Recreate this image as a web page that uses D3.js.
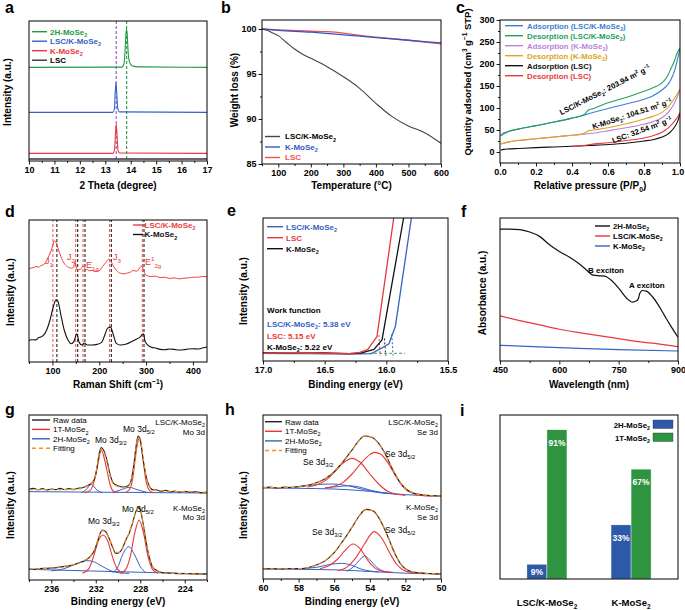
<!DOCTYPE html>
<html><head><meta charset="utf-8">
<script src="https://cdn.jsdelivr.net/npm/d3@7"></script>
<style>body{margin:0;background:#fff}svg{display:block}text{font-family:'Liberation Sans',Arial,Helvetica,sans-serif}</style>
</head><body><script>
// ---------------- DATA ----------------
// a: XRD (x = 2θ degree, y = intensity a.u.)
const aLSC=[[10,1.2],[17,1.2]];
const aK=[[10,4.6],[13.3,4.6],[13.36,6.5],[13.4,16],[13.43,22.2],[13.46,16],[13.5,6.5],[13.56,4.8],[17,4.6]];
const aLK=[[10,29.2],[13.3,29.2],[13.36,31.5],[13.39,41],[13.42,47],[13.45,41],[13.49,31.5],[13.55,29.5],[17,29.2]];
const a2H=[[10,56.2],[13.65,56.3],[13.72,57.5],[13.77,64],[13.81,76],[13.84,79],[13.87,74],[13.9,65],[13.95,59.5],[14.05,57.2],[14.3,56.5],[17,56.2]];
const aRefLines=[13.43,13.84];
const aTicks=[10,11,12,13,14,15,16,17];
// b: TGA
const bLK=[[50,100],[65,99.85],[80,99.6],[100,99.26],[125,98.5],[150,97.78],[175,97.2],[200,96.74],[250,95.81],[300,94.7],[350,93.41],[400,91.74],[450,90.26],[500,89.22],[550,88.48],[600,87.3]];
const bK=[[50,100],[100,99.85],[200,99.65],[300,99.35],[400,99.05],[500,98.75],[600,98.45]];
const bLSC=[[50,100],[100,99.9],[200,99.75],[250,99.7],[300,99.55],[350,99.3],[400,99.1],[500,98.75],[600,98.35]];
const bXTicks=[100,200,300,400,500,600], bYTicks=[85,90,95,100];
// c: N2 isotherms
const cAdsLK=[[0.005,37],[0.02,43],[0.05,47],[0.1,52],[0.2,60],[0.3,68],[0.4,77],[0.45,82],[0.5,88],[0.6,99],[0.7,109],[0.8,120],[0.85,128],[0.9,141],[0.93,152],[0.95,165],[0.97,185],[0.98,200],[0.99,218],[1.0,234]];
const cDesLK=[[0.005,37],[0.05,47],[0.1,52],[0.2,60],[0.3,68],[0.4,77],[0.45,82],[0.47,86],[0.49,95],[0.52,99],[0.6,112],[0.7,124],[0.8,138],[0.85,146],[0.9,157],[0.93,172],[0.95,190],[0.97,208],[0.98,220],[0.99,230],[1.0,236]];
const cAdsK=[[0.005,18],[0.02,20],[0.05,23],[0.1,26],[0.2,30],[0.3,34],[0.4,38],[0.45,40],[0.5,42],[0.6,48],[0.7,55],[0.8,63],[0.85,69],[0.9,78],[0.93,88],[0.95,98],[0.97,112],[0.99,130],[1.0,140]];
const cDesK=[[0.005,18],[0.05,23],[0.1,26],[0.2,30],[0.3,34],[0.4,38],[0.45,40],[0.47,43],[0.49,48],[0.52,50],[0.6,55],[0.7,64],[0.8,75],[0.85,81],[0.9,90],[0.93,100],[0.95,111],[0.97,122],[0.99,136],[1.0,143]];
const cAdsLSC=[[0.005,4],[0.02,6],[0.05,7],[0.1,8],[0.2,10],[0.3,11.5],[0.4,13],[0.5,15],[0.6,17],[0.7,20],[0.8,25],[0.85,28],[0.9,34],[0.93,40],[0.95,47],[0.97,57],[0.99,73],[1.0,88]];
const cDesLSC=[[0.4,13],[0.45,14],[0.47,15],[0.5,17],[0.6,21],[0.7,26],[0.8,32],[0.85,37],[0.9,45],[0.93,53],[0.95,61],[0.97,70],[0.99,82],[1.0,90]];
const cXTicks=[0,0.2,0.4,0.6,0.8,1.0], cYTicks=[0,50,100,150,200,250,300];
// d: Raman
const dLK=[[50,56],[55,56.6],[60,56.8],[65,57.4],[70,57],[75,57.8],[80,58.4],[85,59.6],[90,62.4],[95,65.4],[100,69.4],[104,73],[108,71.8],[112,68.4],[118,63.4],[125,59.4],[132,57.4],[140,56.4],[145,56.8],[148,60.4],[150,58.2],[153,55.4],[160,55.8],[166,57.8],[170,55.8],[175,55.4],[180,54.8],[185,55.2],[190,54.4],[200,55],[207,57.4],[214,59.8],[220,61.8],[224,61],[230,57.8],[237,55],[245,53.4],[255,53],[260,53.6],[265,53.8],[272,55],[280,54.6],[286,56.4],[291,57.8],[295,54.6],[300,52.2],[310,51.4],[320,51.6],[330,50.8],[340,51],[350,50.2],[360,50.6],[370,50],[380,50.4],[390,50.6],[400,51],[410,51],[420,51.4],[430,51.4]];
const dK=[[50,13],[55,13.4],[60,13.4],[65,13.2],[70,14.6],[75,15],[80,15.8],[88,19.4],[95,25.4],[102,33.4],[108,37.4],[112,36.4],[118,28.4],[125,19.4],[133,13.4],[140,11],[146,12.4],[152,17],[157,11.8],[163,10.2],[168,11.4],[175,10.2],[185,10.2],[195,10.6],[205,11.8],[212,16.4],[218,20.4],[224,21],[230,16.4],[236,11.4],[245,10.2],[258,10.8],[270,12.4],[280,13.8],[287,15],[294,17],[298,12.4],[305,9.8],[312,8.8],[320,8.4],[330,7.6],[340,7.4],[350,7.8],[360,7.6],[370,7.2],[380,7.4],[390,7.8],[400,8],[410,7.8],[420,8.4],[430,9]];
const dRedLines=[101,149.6,165.3,222,292], dBlackLines=[109.5,153.9,169.5,225.8,295.5];
const dTicks=[100,200,300,400], dMinor=[50,150,250,350];
// e: UPS cutoff (binding energy eV)
const eLK=[[17,4.6],[16.8,4.5],[16.6,4.4],[16.4,4.3],[16.3,4.2],[16.12,4.4],[15.98,10.2],[15.927,20.6],[15.797,85.6]];
const eLSC=[[17,4.6],[16.8,4.7],[16.5,4.5],[16.3,4.4],[16.22,5],[16.15,7],[16.076,14.6],[15.94,85.6]];
const eK=[[17,4.8],[16.8,4.7],[16.5,4.8],[16.3,4.4],[16.2,4.8],[16.1,7],[16.035,12.6],[15.86,85.6]];
const eDashLSC=[[16.06,15.5],[16.05,3.2]], eDashK=[[16.016,13.5],[16.005,3.2]], eDashLK=[[15.956,16],[15.945,3.2]];
const eDashBase=[[16.14,4.6],[15.85,4.6]];
const eTicks=[17.0,16.5,16.0,15.5], eMinor=[16.75,16.25,15.75];
// f: UV-vis
const f2H=[[450,79],[475,79],[500,78.6],[525,77.2],[550,74.6],[575,69.6],[600,65.6],[625,62.2],[650,58.2],[670,54.2],[685,51.4],[700,51],[715,50.8],[730,48.6],[750,43.6],[770,37.6],[785,35.2],[795,36],[800,37.4],[803,40.2],[810,42.2],[820,41.8],[835,38.6],[850,33.6],[865,27.6],[880,21.6],[900,14.2]];
const fLK=[[450,27],[500,24.2],[550,21.6],[600,19],[650,17],[700,15.2],[750,13.4],[800,11.6],[850,10.2],[900,8.6]];
const fK=[[450,9.4],[550,8.4],[650,7.6],[750,6.8],[900,6]];
const fTicks=[450,600,750,900], fMinor=[525,675,825];
// g: XPS Mo 3d
const gRawLK=[[238,54.4],[237.6,55],[237.2,54.2],[236.8,54.8],[236.4,54],[236,54.6],[235.6,54.2],[235.2,55],[234.8,54.3],[234.4,54.8],[234,54.4],[233.6,55],[233.2,55.4],[232.9,56.2],[232.6,57.2],[232.3,58.6],[232.1,61],[231.9,67],[231.7,75.5],[231.5,79.4],[231.3,78],[231.0,72],[230.7,63],[230.4,58],[230.0,56.6],[229.6,55.8],[229.2,56.2],[228.9,58.2],[228.6,68],[228.4,79],[228.2,86.4],[228.0,84.4],[227.8,75],[227.5,63],[227.2,56.6],[226.9,54.2],[226.5,54],[226.1,53.2],[225.7,53.8],[225.3,52.9],[224.9,53.4],[224.5,52.8],[224,53.2],[223.5,52.6],[223,53],[222.5,52.4],[222,52.6]];
const gFitLK=[[238,54.2],[236,54.2],[234,54.2],[233.5,54.6],[233,55.6],[232.6,57],[232.3,58.6],[232.1,61],[231.9,67],[231.7,75],[231.5,78.6],[231.3,77],[231.0,71],[230.7,62],[230.4,57.6],[230.0,56.2],[229.6,55.8],[229.2,56],[228.9,58],[228.6,67],[228.4,78],[228.2,85.4],[228.0,84],[227.8,76],[227.5,63],[227.2,56.4],[226.8,54.2],[226,53.4],[224,53],[222,52.6]];
const g1TaLK=[[233,52.4],[232.5,53.8],[232.2,58],[232,63],[231.8,70],[231.5,78],[231.2,72],[231,66],[230.7,57],[230.4,53.2],[230,52.4]];
const g1TbLK=[[229.4,52.4],[229,54],[228.7,60],[228.5,70],[228.3,80],[228.1,85],[227.9,80],[227.7,70],[227.5,60],[227.2,54],[226.8,52.4]];
const g2HaLK=[[233.3,52.4],[232.9,54],[232.4,57.4],[231.9,54],[231.4,52.4]];
const g2HbLK=[[230.5,52.4],[229.8,54],[229,55.6],[228.2,54],[227.3,52.4]];
const gBaseLK=[[238,53],[222,52.2]];
const gRawK=[[238,6.6],[237.5,6.4],[237,6.9],[236.5,7],[236,7.2],[235.5,7.4],[235,8],[234.5,8.4],[234,9.2],[233.5,10.2],[233,11.6],[232.5,14],[232.1,18],[231.8,24],[231.6,28],[231.4,30],[231.1,29],[230.8,25],[230.5,20],[230.2,16],[229.9,16.4],[229.6,19],[229.3,24],[229.0,28],[228.7,34],[228.4,41],[228.2,43.6],[228.0,42.4],[227.8,36],[227.5,24],[227.2,14],[226.9,8],[226.5,5.6],[226,4.4],[225.5,4.2],[225,4],[224,3.8],[223,3.7],[222,3.6]];
const gFitK=[[238,6.6],[237,6.8],[236,7.2],[235,8],[234,9.2],[233.5,10.3],[233,11.8],[232.5,14.2],[232.1,18.5],[231.8,24],[231.6,27.8],[231.4,29.6],[231.1,28.6],[230.8,25],[230.5,20.2],[230.2,16.6],[229.9,16.6],[229.6,19],[229.3,23.6],[229.0,28.4],[228.7,34.2],[228.4,40.6],[228.2,43.2],[228.0,42],[227.8,36.4],[227.5,24.4],[227.2,14],[226.9,8],[226.5,5.6],[226,4.4],[225,4],[222,3.6]];
const g1TaK=[[233.2,4],[232.6,7],[232.2,14],[231.8,23],[231.35,27],[230.9,23],[230.5,14],[230.1,7],[229.5,4]];
const g1TbK=[[229.8,4],[229.3,6.4],[228.9,14],[228.5,28],[228.1,36],[227.7,28],[227.3,14],[226.9,6.4],[226.4,4]];
const g2HaK=[[236,5.5],[235,6.5],[234,9],[233.3,11],[232.8,11.6],[232.2,11],[231.5,8.5],[230.8,6],[230,4.4],[229,4]];
const g2HbK=[[230.5,4.4],[230,8],[229.6,15],[229.05,20],[228.5,15],[228,8],[227.5,4.4]];
const gBaseK=[[238,6.4],[222,3.6]];
const gTicks=[236,232,228,224], gMinor=[238,234,230,226,222];
// h: XPS Se 3d
const hRawLK=[[60,54.8],[59.6,55.1],[59.2,54.6],[58.8,55.1],[58.4,54.9],[58,55.4],[57.5,56.2],[57,57.8],[56.5,60.2],[56,64.4],[55.5,70.4],[55,77.4],[54.7,81.8],[54.3,85.8],[53.9,85],[53.5,81.4],[53.1,74.4],[52.7,65.4],[52.3,57.8],[51.9,53.4],[51.5,51.4],[51,50.4],[50.5,50],[50,49.8]];
const hFitLK=[[60,54.8],[59,54.8],[58,55.3],[57.5,56.1],[57,57.7],[56.5,60.2],[56,64.4],[55.5,70.5],[55,77.3],[54.7,81.7],[54.3,85.6],[53.9,85],[53.5,81.3],[53.1,74.4],[52.7,65.5],[52.3,57.9],[51.9,53.4],[51.5,51.4],[51,50.4],[50,49.8]];
const h1TaLK=[[57.5,55.2],[57,56.4],[56.5,59],[56,64],[55.5,69.6],[55,72.4],[54.5,69.6],[54,63],[53.5,57],[53,52.6],[52.5,50.8],[52,50.2]];
const h1TbLK=[[56.5,54.5],[56,55.6],[55.5,58],[55,63],[54.5,69.4],[54,74.6],[53.75,76],[53.4,75],[53,70],[52.5,61],[52,54],[51.5,51],[51,50],[50.5,49.8]];
const h2HaLK=[[58.5,55],[57.5,56],[56.8,56.8],[56.2,57],[55.6,56.6],[55,55.4],[54.4,53.8],[53.8,52.4],[53,51.2]];
const h2HbLK=[[56.5,54.8],[55.8,55.4],[55.2,56],[54.6,55.2],[54,53.4],[53.3,51.8],[52.5,50.8]];
const hBaseLK=[[60,54.6],[58,54.4],[56,54],[54,52.6],[52,50.6],[50,49.8]];
const hRawK=[[60,6],[59.5,6.2],[59,6],[58.5,6.3],[58,6.2],[57.5,6.8],[57,8.4],[56.5,11],[56,15.8],[55.5,23],[55,31],[54.6,37.8],[54.2,41.8],[53.8,40.8],[53.4,35],[53,25.8],[52.6,15.4],[52.2,8],[51.8,5],[51.3,3.8],[50.5,3.2],[50,3]];
const hFitK=[[60,6],[58,6.2],[57.5,6.8],[57,8.4],[56.5,11],[56,15.8],[55.5,23],[55,31],[54.6,37.8],[54.2,41.6],[53.8,40.8],[53.4,35],[53,25.8],[52.6,15.4],[52.2,8],[51.8,5],[51.3,3.8],[50,3]];
const h1TaK=[[56.8,6.2],[56.3,8],[55.8,12],[55.4,17],[54.95,21],[54.5,17.6],[54.1,11],[53.7,6.5],[53.2,4.4],[52.7,4]];
const h1TbK=[[55.8,5],[55.3,7],[54.8,12.5],[54.3,21],[53.75,28.4],[53.3,24],[52.9,16],[52.5,9],[52.1,5.2],[51.6,3.8],[51,3.4]];
const h2HaK=[[58,6.2],[57,7],[56.3,8.6],[55.6,9.4],[55,8.2],[54.5,6],[54,4.8],[53.5,4.2]];
const h2HbK=[[55.3,4.6],[54.9,7.5],[54.6,11],[54.3,13.8],[54,11.5],[53.6,7],[53.2,4.6],[52.8,4]];
const hBaseK=[[60,6],[56,5.5],[54,4.5],[52,3.5],[50,3]];
const hTicks=[60,58,56,54,52,50], hMinor=[59,57,55,53,51];
// i: phase fractions
const iCats=["LSC/K-MoSe_{2}","K-MoSe_{2}"];
const iSeries=["2H-MoSe_{2}","1T-MoSe_{2}"];
const i2H=[9,33], i1T=[91,67];

// ---------------- DRAWING ----------------
const W=685,H=610;
const svg=d3.select("body").append("svg").attr("width",W).attr("height",H);
svg.append("rect").attr("width",W).attr("height",H).attr("fill","#fff");
const defs=svg.append("defs");

function rich(t,str,fs){
  const parts=str.split(/(_\{[^}]*\}|\^\{[^}]*\})/).filter(s=>s.length);
  let cur=0;
  parts.forEach(p=>{
    let txt=p,off=0,size=fs;
    if(p.startsWith("_{")){txt=p.slice(2,-1);off=fs*0.28;size=fs*0.68;}
    else if(p.startsWith("^{")){txt=p.slice(2,-1);off=-fs*0.4;size=fs*0.68;}
    t.append("tspan").attr("dy",(off-cur).toFixed(2)).attr("font-size",size).text(txt);
    cur=off;
  });
  return t;
}
function label(g,str,x,y,o={}){
  const fs=o.size||9;
  const t=g.append("text").attr("x",x).attr("y",y).attr("font-size",fs)
    .attr("font-weight",o.weight||"bold").attr("fill",o.color||"#000")
    .attr("text-anchor",o.anchor||"start");
  if(o.rotate!=null)t.attr("transform",`rotate(${o.rotate},${x},${y})`);
  return rich(t,str,fs);
}
function styleAxis(sel){
  sel.selectAll(".domain").remove();
  sel.selectAll("line").attr("stroke","#000").attr("stroke-width",0.9);
  sel.selectAll("text").attr("font-size",9).attr("font-weight","bold").attr("fill","#000")
    .attr("font-family","'Liberation Sans',Arial,sans-serif");
}
function panel(c){
  const g=svg.append("g");
  const x=d3.scaleLinear().domain(c.xd).range([c.l,c.r]);
  const y=d3.scaleLinear().domain(c.yd).range([c.b,c.t]);
  const id="clip_"+c.id;
  defs.append("clipPath").attr("id",id).append("rect").attr("x",c.l).attr("y",c.t).attr("width",c.r-c.l).attr("height",c.b-c.t);
  const plot=g.append("g").attr("clip-path",`url(#${id})`);
  const ax=g.append("g");
  if(c.xminor)ax.append("g").attr("transform",`translate(0,${c.b})`).call(d3.axisBottom(x).tickValues(c.xminor).tickSize(2).tickFormat(""));
  let xa=null;
  if(c.xticks)xa=ax.append("g").attr("transform",`translate(0,${c.b})`).call(d3.axisBottom(x).tickValues(c.xticks).tickSize(3.5).tickPadding(2.5).tickFormat(c.xfmt||(d=>d)));
  if(c.yminor)ax.append("g").attr("transform",`translate(${c.l},0)`).call(d3.axisLeft(y).tickValues(c.yminor).tickSize(2).tickFormat(""));
  if(c.yticks)ax.append("g").attr("transform",`translate(${c.l},0)`).call(d3.axisLeft(y).tickValues(c.yticks).tickSize(3.5).tickPadding(2).tickFormat(c.yfmt||(d=>d)));
  styleAxis(ax);
  if(xa&&c.lastShift)xa.selectAll(".tick:last-of-type text").attr("dx",c.lastShift);
  g.append("rect").attr("x",c.l).attr("y",c.t).attr("width",c.r-c.l).attr("height",c.b-c.t)
    .attr("fill","none").attr("stroke","#000").attr("stroke-width",1);
  if(c.xtitle)label(g,c.xtitle,(c.l+c.r)/2,c.xty,{size:10,anchor:"middle"});
  if(c.ytitle)label(g,c.ytitle,c.ytx,c.yty,{size:c.ytsize||10,anchor:"middle",rotate:-90});
  label(g,c.letter,c.lx,c.ly,{size:16});
  return {g,plot,x,y};
}
function draw(p,data,color,o={}){
  p.plot.append("path").datum(data)
    .attr("d",d3.line().x(d=>p.x(d[0])).y(d=>p.y(d[1])).curve(o.curve||d3.curveMonotoneX))
    .attr("fill","none").attr("stroke",color).attr("stroke-width",o.w||1.1)
    .attr("stroke-dasharray",o.dash||null).attr("stroke-linejoin","round");
}
function vlines(p,vals,color,dash){
  p.plot.selectAll(null).data(vals).enter().append("line")
    .attr("x1",d=>p.x(d)).attr("x2",d=>p.x(d)).attr("y1",p.y.range()[0]).attr("y2",p.y.range()[1])
    .attr("stroke",color).attr("stroke-width",1.1).attr("stroke-dasharray",dash);
}
function legend(g,items,o){
  items.forEach((it,i)=>{
    const yy=o.y+i*o.dy;
    g.append("line").attr("x1",o.x1).attr("x2",o.x2).attr("y1",yy).attr("y2",yy)
      .attr("stroke",it.c).attr("stroke-width",o.w||1.4).attr("stroke-dasharray",it.dash||null);
    label(g,it.t,o.tx,yy+o.fs*0.36,{size:o.fs,color:it.tc||it.c,weight:o.weight||"bold"});
  });
}

// colors
const RED="#e8383d",BLUE="#3562c4",GREEN="#1f9a45",ORANGE="#f39220";

// ---- a ----
const pa=panel({id:"a",l:29,r:207,t:21,b:161,xd:[10,17],yd:[0,84],xticks:aTicks,xminor:d3.range(10.5,17,1),
  xtitle:"2 Theta (degree)",xty:189,ytitle:"Intensity (a.u.)",ytx:11,yty:92,letter:"a",lx:5,ly:13});
pa.plot.append("line").attr("x1",pa.x(aRefLines[0])).attr("x2",pa.x(aRefLines[0])).attr("y1",21).attr("y2",161).attr("stroke","#9b4fc9").attr("stroke-width",1.1).attr("stroke-dasharray","3,2");
pa.plot.append("line").attr("x1",pa.x(aRefLines[1])).attr("x2",pa.x(aRefLines[1])).attr("y1",21).attr("y2",161).attr("stroke",GREEN).attr("stroke-width",1.1).attr("stroke-dasharray","3,2");
draw(pa,aLSC,"#333",{w:1.3});
draw(pa,aK,RED);
draw(pa,aLK,BLUE);
draw(pa,a2H,GREEN);
legend(pa.g,[{t:"2H-MoSe_{2}",c:GREEN},{t:"LSC/K-MoSe_{2}",c:BLUE},{t:"K-MoSe_{2}",c:RED},{t:"LSC",c:"#333",tc:"#000"}],
  {x1:32,x2:47,tx:50,y:31.7,dy:9.5,fs:8});

// ---- b ----
const pb=panel({id:"b",l:262,r:441,t:20,b:164,xd:[50,600],yd:[85,101],xticks:bXTicks,xminor:[50,150,250,350,450,550],
  yticks:bYTicks,yminor:[87.5,92.5,97.5],xtitle:"Temperature (°C)",xty:189,ytitle:"Weight loss (%)",ytx:237.5,yty:90,letter:"b",lx:221,ly:13});
draw(pb,bLSC,"#f05050",{w:1.3});
draw(pb,bK,"#3358c4",{w:1.3});
draw(pb,bLK,"#444",{w:1.1});
legend(pb.g,[{t:"LSC/K-MoSe_{2}",c:"#444",tc:"#000"},{t:"K-MoSe_{2}",c:"#3358c4"},{t:"LSC",c:"#f05050"}],
  {x1:265,x2:280,tx:285,y:136.5,dy:10.5,fs:8});

// ---- c ----
const pc=panel({id:"c",l:500,r:680,t:20,b:163,xd:[0,1],yd:[-25,300],xticks:cXTicks,xminor:[0.1,0.3,0.5,0.7,0.9],xfmt:d3.format(".1f"),lastShift:-2.5,
  yticks:cYTicks,yminor:[25,75,125,175,225,275],xtitle:"Relative pressure (P/P_{0})",xty:189,
  ytitle:"Quantity adsorbed (cm^{3} g^{−1} STP)",ytx:471,yty:82,ytsize:9.5,letter:"c",lx:456,ly:13});
const cCol={ablk:"#3b7fd0",dlk:"#22a060",ak:"#b784d8",dk:"#dba520",alsc:"#111",dlsc:"#e53b3b"};
draw(pc,cAdsLSC,cCol.alsc);
draw(pc,cDesLSC,cCol.dlsc);
draw(pc,cAdsK,cCol.ak);
draw(pc,cDesK,cCol.dk);
draw(pc,cAdsLK,cCol.ablk);
draw(pc,cDesLK,cCol.dlk);
legend(pc.g,[{t:"Adsorption (LSC/K-MoSe_{2})",c:cCol.ablk},{t:"Desorption (LSC/K-MoSe_{2})",c:cCol.dlk},
  {t:"Adsorption (K-MoSe_{2})",c:cCol.ak},{t:"Desorption (K-MoSe_{2})",c:cCol.dk},
  {t:"Adsorption (LSC)",c:cCol.alsc},{t:"Desorption (LSC)",c:cCol.dlsc}],{x1:505,x2:523,tx:527,y:25.7,dy:10,fs:7.8});
[["LSC/K-MoSe_{2}: 203.94 m^{2} g^{−1}",605,90,-27],["K-MoSe_{2}: 104.51 m^{2} g^{−1}",632,114,-18],["LSC: 32.54 m^{2} g^{−1}",642,130,-20]]
  .forEach(([s,x,y,r])=>{
    const t=pc.g.append("text").attr("transform",`translate(${x},${y}) rotate(${r})`).attr("text-anchor","middle")
      .attr("font-size",7.6).attr("font-weight","bold").attr("y",2.6);
    rich(t,s,7.6);
  });

// ---- d ----
const pd=panel({id:"d",l:29,r:207,t:220,b:362,xd:[50,430],yd:[0,85.4],xticks:dTicks,xminor:dMinor,
  xtitle:"Raman Shift (cm^{−1})",xty:388,ytitle:"Intensity (a.u.)",ytx:14,yty:292,letter:"d",lx:5,ly:217});
vlines(pd,dRedLines,"#f06060","3,2");
vlines(pd,dBlackLines,"#222","3,2");
draw(pd,dLK,"#f04040",{w:1});
draw(pd,dK,"#111",{w:1.1});
legend(pd.g,[{t:"LSC/K-MoSe_{2}",c:"#f04040"},{t:"K-MoSe_{2}",c:"#111"}],{x1:133,x2:143,tx:144.5,y:225,dy:9.5,fs:8});
[["J_{1}",45,264],["J_{2}",67,260],["E_{1g}",86,268],["J_{3}",113,260],["E^{1}_{2g}",145,265]].forEach(([s,x,y])=>
  label(pd.g,s,x,y,{size:9,color:"#e8383d",weight:"normal"}));

// ---- e ----
const pe=panel({id:"e",l:263,r:448,t:218,b:361,xd:[17,15.5],yd:[0,85.6],xticks:eTicks,xminor:eMinor,xfmt:d3.format(".1f"),
  xtitle:"Binding energy (eV)",xty:388,ytitle:"Intensity (a.u.)",ytx:247,yty:291,letter:"e",lx:227,ly:216});
draw(pe,eDashBase,"#3aa050",{curve:d3.curveLinear,dash:"3,2",w:1});
draw(pe,eDashLSC,RED,{curve:d3.curveLinear,dash:"2,2",w:1});
draw(pe,eDashK,"#222",{curve:d3.curveLinear,dash:"2,2",w:1});
draw(pe,eDashLK,BLUE,{curve:d3.curveLinear,dash:"2,2",w:1});
draw(pe,eLK,BLUE,{curve:d3.curveLinear,w:1.3});
draw(pe,eK,"#111",{curve:d3.curveLinear,w:1.3});
draw(pe,eLSC,RED,{curve:d3.curveLinear,w:1.3});
legend(pe.g,[{t:"LSC/K-MoSe_{2}",c:BLUE},{t:"LSC",c:RED},{t:"K-MoSe_{2}",c:"#111"}],{x1:267,x2:283,tx:286,y:226.7,dy:11,fs:8});
label(pe.g,"Work function",267,313,{size:8});
label(pe.g,"LSC/K-MoSe_{2}: 5.38 eV",267,326.5,{size:8,color:BLUE});
label(pe.g,"LSC: 5.15 eV",267,339,{size:8,color:RED});
label(pe.g,"K-MoSe_{2}: 5.22 eV",267,349.5,{size:8});

// ---- f ----
const pf=panel({id:"f",l:500,r:678,t:218,b:361,xd:[450,900],yd:[0,85.6],xticks:fTicks,xminor:fMinor,
  xtitle:"Wavelength (nm)",xty:388,ytitle:"Absorbance (a.u.)",ytx:486,yty:293,letter:"f",lx:461,ly:217});
draw(pf,fK,BLUE,{w:1.2});
draw(pf,fLK,RED,{w:1.2});
draw(pf,f2H,"#111",{w:1.2});
legend(pf.g,[{t:"2H-MoSe_{2}",c:"#111"},{t:"LSC/K-MoSe_{2}",c:RED,tc:"#000"},{t:"K-MoSe_{2}",c:BLUE,tc:"#000"}],{x1:595,x2:610,tx:613,y:226,dy:10,fs:7.8});
label(pf.g,"B exciton",588,273,{size:8,weight:"bold"});
label(pf.g,"A exciton",629,288,{size:8,weight:"bold"});

// ---- g ----
const pg=panel({id:"g",l:29,r:207,t:415,b:580,xd:[238,222],yd:[0,99],xticks:gTicks,xminor:gMinor,
  xtitle:"Binding energy (eV)",xty:605,ytitle:"Intensity (a.u.)",ytx:14,yty:505,letter:"g",lx:5,ly:415});
[gBaseLK,gBaseK].forEach(d=>draw(pg,d,BLUE,{w:1}));
[g2HaLK,g2HbLK,g2HaK,g2HbK].forEach(d=>draw(pg,d,BLUE,{w:1}));
[g1TaLK,g1TbLK,g1TaK,g1TbK].forEach(d=>draw(pg,d,RED,{w:1.1}));
draw(pg,gRawLK,"#222",{w:1.1});draw(pg,gRawK,"#222",{w:1.1});
draw(pg,gFitLK,ORANGE,{w:1.2,dash:"4,3"});draw(pg,gFitK,ORANGE,{w:1.2,dash:"4,3"});
legend(pg.g,[{t:"Raw data",c:"#222",tc:"#000"},{t:"1T-MoSe_{2}",c:RED,tc:"#000"},{t:"2H-MoSe_{2}",c:BLUE,tc:"#000"},{t:"Fitting",c:ORANGE,tc:"#000",dash:"4,3"}],
  {x1:32,x2:50,tx:53,y:420,dy:9.4,fs:8,weight:"normal"});
label(pg.g,"LSC/K-MoSe_{2}",205,425,{size:8,anchor:"end",weight:"normal"});
label(pg.g,"Mo 3d",205,435,{size:8,anchor:"end",weight:"normal"});
label(pg.g,"Mo 3d_{5/2}",123,431.5,{size:8.5,weight:"normal"});
label(pg.g,"Mo 3d_{3/2}",95,443,{size:8.5,weight:"normal"});
label(pg.g,"K-MoSe_{2}",205,511,{size:8,anchor:"end",weight:"normal"});
label(pg.g,"Mo 3d",205,520,{size:8,anchor:"end",weight:"normal"});
label(pg.g,"Mo 3d_{5/2}",122,511.5,{size:8.5,weight:"normal"});
label(pg.g,"Mo 3d_{3/2}",88,524,{size:8.5,weight:"normal"});

// ---- h ----
const ph=panel({id:"h",l:263,r:441,t:415,b:579,xd:[60,50],yd:[0,98.4],xticks:hTicks,xminor:hMinor,
  xtitle:"Binding energy (eV)",xty:605,ytitle:"Intensity (a.u.)",ytx:247,yty:505,letter:"h",lx:225,ly:415});
[hBaseLK,hBaseK,h2HaLK,h2HbLK,h2HaK,h2HbK].forEach(d=>draw(ph,d,BLUE,{w:1}));
[h1TaLK,h1TbLK,h1TaK,h1TbK].forEach(d=>draw(ph,d,RED,{w:1.1}));
draw(ph,hRawLK,"#222",{w:1.1});draw(ph,hRawK,"#222",{w:1.1});
draw(ph,hFitLK,ORANGE,{w:1.2,dash:"4,3"});draw(ph,hFitK,ORANGE,{w:1.2,dash:"4,3"});
legend(ph.g,[{t:"Raw data",c:"#222",tc:"#000"},{t:"1T-MoSe_{2}",c:RED,tc:"#000"},{t:"2H-MoSe_{2}",c:BLUE,tc:"#000"},{t:"Fitting",c:ORANGE,tc:"#000",dash:"4,3"}],
  {x1:265,x2:282,tx:285,y:421.7,dy:9.6,fs:8,weight:"normal"});
label(ph.g,"LSC/K-MoSe_{2}",438,425,{size:8,anchor:"end",weight:"normal"});
label(ph.g,"Se 3d",438,435,{size:8,anchor:"end",weight:"normal"});
label(ph.g,"Se 3d_{5/2}",385,456.5,{size:8.5,weight:"normal"});
label(ph.g,"Se 3d_{3/2}",303,465,{size:8.5,weight:"normal"});
label(ph.g,"K-MoSe_{2}",438,510,{size:8,anchor:"end",weight:"normal"});
label(ph.g,"Se 3d",438,520,{size:8,anchor:"end",weight:"normal"});
label(ph.g,"Se 3d_{5/2}",385,533,{size:8.5,weight:"normal"});
label(ph.g,"Se 3d_{3/2}",312,535,{size:8.5,weight:"normal"});

// ---- i ----
{
  const l=500,r=678,t=415,b=579;
  const g=svg.append("g");
  const x0=d3.scaleBand().domain(iCats).range([l,r]).paddingInner(0.524).paddingOuter(0.32);
  const x1=d3.scaleBand().domain(iSeries).range([0,x0.bandwidth()]);
  const y=d3.scaleLinear().domain([0,100]).range([b,t]);
  const col={"2H-MoSe_{2}":"#2d5aa8","1T-MoSe_{2}":"#2f9440"};
  const rows=iCats.map((c,k)=>({cat:c,vals:[{s:iSeries[0],v:i2H[k]},{s:iSeries[1],v:i1T[k]}]}));
  const grp=g.selectAll(null).data(rows).enter().append("g").attr("transform",d=>`translate(${x0(d.cat)},0)`);
  grp.selectAll("rect").data(d=>d.vals).enter().append("rect")
    .attr("x",d=>x1(d.s)).attr("width",x1.bandwidth()).attr("y",d=>y(d.v)).attr("height",d=>b-y(d.v))
    .attr("fill",d=>col[d.s]).attr("stroke","#fff").attr("stroke-width",0.4);
  grp.selectAll("text").data(d=>d.vals).enter().append("text")
    .attr("x",d=>x1(d.s)+x1.bandwidth()/2)
    .attr("y",d=>Math.min(y(d.v)+16,(y(d.v)+b)/2+3.2))
    .attr("text-anchor","middle").attr("font-size",8.5).attr("font-weight","bold").attr("fill","#fff")
    .text(d=>d.v+"%");
  g.append("rect").attr("x",l).attr("y",t).attr("width",r-l).attr("height",b-t).attr("fill","none").attr("stroke","#000").attr("stroke-width",1);
  iCats.forEach(c=>label(g,c,x0(c)+x0.bandwidth()/2,606,{size:9.5,anchor:"middle"}));
  iSeries.forEach((s,k)=>{
    g.append("rect").attr("x",653).attr("y",420+k*13).attr("width",20).attr("height",8.5).attr("fill",col[s]).attr("stroke","#333").attr("stroke-width",0.4);
    label(g,s,650,427.5+k*13,{size:7.8,anchor:"end"});
  });
  label(g,"i",460,416,{size:16});
}
</script></body></html>
